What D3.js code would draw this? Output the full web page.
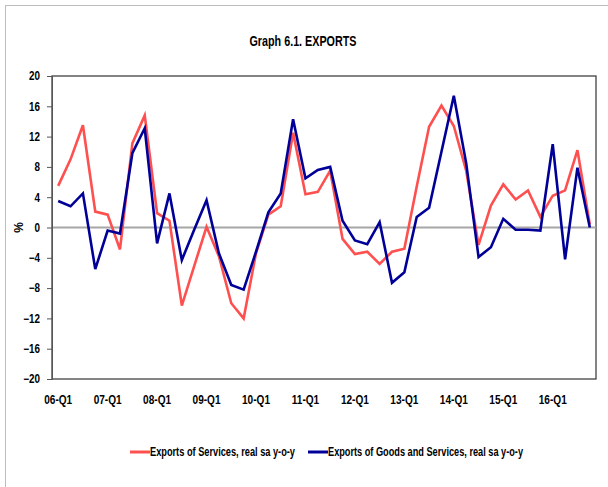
<!DOCTYPE html>
<html>
<head>
<meta charset="utf-8">
<script src="https://cdn.jsdelivr.net/npm/d3@7"></script>
<style>
  body { margin: 0; background: #fff; }
  text { font-family: "Liberation Sans", Arial, sans-serif; font-weight: bold; }
</style>
</head>
<body>
<div id="chart"></div>
<script>
// quarters 06-Q1 .. 16-Q4
var years = ["06", "07", "08", "09", "10", "11", "12", "13", "14", "15", "16"];
var quarters = [];
years.forEach(function(y) { for (var q = 1; q <= 4; q++) quarters.push(y + "-Q" + q); });

var services = [5.5, 9.0, 13.5, 2.1, 1.7, -2.9, 11.1, 14.8, 1.9, 0.9, -10.3, -5.1,
                0.1, -3.8, -10.0, -12.0, -3.4, 1.7, 2.8, 12.5, 4.4, 4.7, 7.5, -1.5,
                -3.5, -3.2, -4.8, -3.2, -2.8, 5.4, 13.3, 16.1, 13.4, 7.5, -2.3, 2.9,
                5.7, 3.7, 4.9, 1.4, 4.2, 4.9, 10.2, 0.4];
var goodsServices = [3.5, 2.8, 4.5, -5.5, -0.4, -0.8, 9.8, 13.1, -2.1, 4.5, -4.3, -0.3,
                3.6, -3.4, -7.6, -8.2, -3.2, 2.0, 4.5, 14.3, 6.5, 7.6, 8.0, 0.9,
                -1.7, -2.2, 0.7, -7.3, -5.9, 1.4, 2.6, 10.0, 17.4, 8.5, -3.9, -2.6,
                1.15, -0.3, -0.3, -0.4, 11.0, -4.2, 7.9, 0.0];
var yTicks = [-20, -16, -12, -8, -4, 0, 4, 8, 12, 16, 20];
var xLabels = ["06-Q1", "07-Q1", "08-Q1", "09-Q1", "10-Q1", "11-Q1", "12-Q1", "13-Q1", "14-Q1", "15-Q1", "16-Q1"];
var seriesNames = ["Exports of Services, real sa y-o-y", "Exports of Goods and Services, real sa y-o-y"];
var colors = ["#ff5050", "#000099"];

var W = 608, H = 487;
var margin = {top: 76, right: 12, bottom: 108, left: 52},
    width = W - margin.left - margin.right,
    height = H - margin.top - margin.bottom;

// the source font is a narrow one, so squeeze the text horizontally
function squeeze(sel, factor) {
    sel.each(function() {
        var w = this.getComputedTextLength();
        d3.select(this)
            .attr("textLength", w * factor)
            .attr("lengthAdjust", "spacingAndGlyphs");
    });
}

var svg = d3.select("#chart").append("svg")
    .attr("width", W)
    .attr("height", H);

// outer frame (only top/left visible in the picture)
svg.append("rect")
    .attr("x", 5.5).attr("y", 5.5)
    .attr("width", W + 20).attr("height", H + 20)
    .attr("fill", "none")
    .attr("stroke", "#bdbdbd");

svg.append("text")
    .attr("x", 303).attr("y", 46)
    .attr("text-anchor", "middle")
    .style("font-size", "15px")
    .attr("textLength", 107)
    .attr("lengthAdjust", "spacingAndGlyphs")
    .text("Graph 6.1. EXPORTS");

var g = svg.append("g")
    .attr("transform", "translate(" + margin.left + "," + margin.top + ")");

var x = d3.scaleBand().domain(quarters).range([0, width]).padding(0);
var y = d3.scaleLinear().domain([-20, 20]).range([height, 0]);
var cx = function(d, i) { return x(quarters[i]) + x.bandwidth() / 2; };

// plot border
g.append("rect")
    .attr("width", width).attr("height", height)
    .attr("fill", "none")
    .attr("stroke", "#333").attr("stroke-width", 1.2);

// zero line
g.append("line")
    .attr("x1", 0).attr("x2", width)
    .attr("y1", y(0)).attr("y2", y(0))
    .attr("stroke", "#a6a6a6").attr("stroke-width", 2);

var yAxis = g.append("g")
    .call(d3.axisLeft(y).tickValues(yTicks).tickSize(5).tickPadding(7));
yAxis.select(".domain").attr("stroke", "#555");
yAxis.selectAll(".tick line").attr("stroke", "#555");
yAxis.selectAll("text").style("font-size", "12px").attr("fill", "#000");
squeeze(yAxis.selectAll("text"), 0.82);

var xAxis = g.append("g")
    .attr("transform", "translate(0," + height + ")")
    .call(d3.axisBottom(x).tickValues(xLabels).tickSize(0).tickPadding(16));
xAxis.select(".domain").remove();
xAxis.selectAll("text").style("font-size", "12px").attr("fill", "#000");
squeeze(xAxis.selectAll("text"), 0.84);

g.append("text")
    .attr("transform", "translate(" + (-33) + "," + y(0) + ") rotate(-90)")
    .attr("text-anchor", "middle")
    .attr("dy", "0.35em")
    .style("font-size", "12px")
    .text("%");

var line = d3.line()
    .x(cx)
    .y(function(d) { return y(d); });

[services, goodsServices].forEach(function(s, k) {
    g.append("path")
        .datum(s)
        .attr("d", line)
        .attr("fill", "none")
        .attr("stroke", colors[k])
        .attr("stroke-width", 2.6)
        .attr("stroke-linejoin", "miter");
});

// legend
var legendX = [130, 308],
    legendW = [145, 195];
seriesNames.forEach(function(name, k) {
    var lg = svg.append("g").attr("transform", "translate(" + legendX[k] + ",452)");
    lg.append("line")
        .attr("x1", 0).attr("x2", 20)
        .attr("stroke", colors[k]).attr("stroke-width", 3);
    lg.append("text")
        .attr("x", 20).attr("dy", "0.35em")
        .style("font-size", "12px")
        .attr("textLength", legendW[k])
        .attr("lengthAdjust", "spacingAndGlyphs")
        .text(name);
});
</script>
</body>
</html>
